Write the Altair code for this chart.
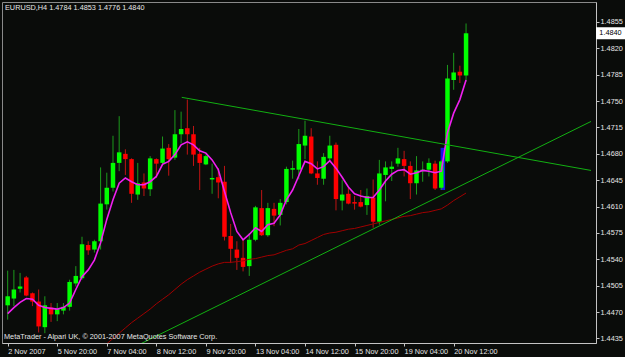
import altair as alt
import pandas as pd

# ---------------- data ----------------
bar_index = list(range(75))
opens = [1.4479, 1.4488, 1.4501, 1.4516, 1.4495, 1.4484, 1.4450, 1.4476, 1.4467, 1.4472,
         1.4477, 1.4508, 1.4515, 1.4559, 1.4553, 1.4564, 1.4613, 1.4635, 1.4668, 1.4680,
         1.4673, 1.4626, 1.4642, 1.4633, 1.4673, 1.4668, 1.4688, 1.4675, 1.4706, 1.4714,
         1.4706, 1.4680, 1.4666, 1.4646, 1.4649, 1.4643, 1.4571, 1.4553, 1.4542, 1.4531,
         1.4566, 1.4608, 1.4572, 1.4607, 1.4599, 1.4616, 1.4659, 1.4659, 1.4691, 1.4703,
         1.4654, 1.4647, 1.4674, 1.4692, 1.4618, 1.4627, 1.4616, 1.4616, 1.4612, 1.4622,
         1.4590, 1.4652, 1.4660, 1.4667, 1.4673, 1.4664, 1.4641, 1.4657, 1.4659, 1.4667,
         1.4635, 1.4670, 1.4778, 1.4789, 1.4784]
highs = [1.4525, 1.4526, 1.4522, 1.4518, 1.4496, 1.4500, 1.4491, 1.4482, 1.4482, 1.4482,
         1.4513, 1.4531, 1.4570, 1.4564, 1.4566, 1.4662, 1.4655, 1.4704, 1.4730, 1.4686,
         1.4674, 1.4668, 1.4654, 1.4677, 1.4674, 1.4703, 1.4693, 1.4738, 1.4736, 1.4752,
         1.4717, 1.4688, 1.4679, 1.4667, 1.4661, 1.4664, 1.4587, 1.4564, 1.4567, 1.4575,
         1.4611, 1.4632, 1.4615, 1.4615, 1.4620, 1.4663, 1.4671, 1.4713, 1.4724, 1.4714,
         1.4670, 1.4681, 1.4704, 1.4695, 1.4645, 1.4635, 1.4624, 1.4632, 1.4634, 1.4646,
         1.4672, 1.4670, 1.4670, 1.4688, 1.4684, 1.4670, 1.4677, 1.4670, 1.4674, 1.4671,
         1.4672, 1.4798, 1.4814, 1.4797, 1.4853]
lows = [1.4460, 1.4478, 1.4496, 1.4491, 1.4478, 1.4443, 1.4442, 1.4457, 1.4458, 1.4467,
        1.4472, 1.4504, 1.4513, 1.4546, 1.4549, 1.4553, 1.4606, 1.4630, 1.4657, 1.4652,
        1.4615, 1.4619, 1.4624, 1.4624, 1.4648, 1.4666, 1.4651, 1.4672, 1.4694, 1.4679,
        1.4664, 1.4632, 1.4665, 1.4627, 1.4621, 1.4565, 1.4535, 1.4526, 1.4524, 1.4518,
        1.4564, 1.4571, 1.4570, 1.4584, 1.4585, 1.4613, 1.4647, 1.4646, 1.4673, 1.4653,
        1.4639, 1.4639, 1.4670, 1.4605, 1.4605, 1.4613, 1.4606, 1.4609, 1.4599, 1.4582,
        1.4586, 1.4617, 1.4644, 1.4663, 1.4650, 1.4620, 1.4626, 1.4643, 1.4650, 1.4632,
        1.4632, 1.4668, 1.4765, 1.4774, 1.4776]
closes = [1.4491, 1.4500, 1.4504, 1.4492, 1.4484, 1.4451, 1.4479, 1.4467, 1.4474, 1.4477,
          1.4510, 1.4518, 1.4560, 1.4552, 1.4564, 1.4614, 1.4635, 1.4668, 1.4682, 1.4673,
          1.4627, 1.4641, 1.4634, 1.4674, 1.4667, 1.4687, 1.4673, 1.4706, 1.4713, 1.4706,
          1.4679, 1.4668, 1.4677, 1.4648, 1.4642, 1.4570, 1.4554, 1.4542, 1.4530, 1.4566,
          1.4609, 1.4572, 1.4608, 1.4598, 1.4615, 1.4660, 1.4661, 1.4693, 1.4704, 1.4654,
          1.4648, 1.4676, 1.4691, 1.4620, 1.4626, 1.4614, 1.4614, 1.4610, 1.4624, 1.4590,
          1.4654, 1.4662, 1.4663, 1.4674, 1.4664, 1.4641, 1.4658, 1.4659, 1.4668, 1.4634,
          1.4670, 1.4780, 1.4788, 1.4784, 1.4840]

ma_fast = [1.4468, 1.4476, 1.4483, 1.4488, 1.4487, 1.4479, 1.4476, 1.4475, 1.4474, 1.4476,
           1.4482, 1.4500, 1.4517, 1.4526, 1.4539, 1.4562, 1.4593, 1.4619, 1.4641, 1.4648,
           1.4643, 1.4639, 1.4639, 1.4643, 1.4650, 1.4666, 1.4670, 1.4679, 1.4692, 1.4696,
           1.4692, 1.4684, 1.4681, 1.4672, 1.4659, 1.4630, 1.4602, 1.4577, 1.4566, 1.4573,
           1.4582, 1.4577, 1.4586, 1.4588, 1.4599, 1.4619, 1.4632, 1.4651, 1.4670, 1.4667,
           1.4660, 1.4663, 1.4671, 1.4661, 1.4649, 1.4636, 1.4627, 1.4624, 1.4622, 1.4622,
           1.4632, 1.4644, 1.4653, 1.4658, 1.4659, 1.4653, 1.4655, 1.4658, 1.4657, 1.4655,
           1.4657, 1.4708, 1.4734, 1.4752, 1.4778]

ma_slow_bars = list(range(16, 75))
ma_slow = [1.4428, 1.4435, 1.4442, 1.4449, 1.4456, 1.4462, 1.4468, 1.4474, 1.4481, 1.4487,
           1.4493, 1.4500, 1.4507, 1.4513, 1.4518, 1.4523, 1.4527, 1.4531, 1.4534, 1.4536,
           1.4536, 1.4537, 1.4538, 1.4540, 1.4541, 1.4543, 1.4545, 1.4546, 1.4549, 1.4552,
           1.4554, 1.4559, 1.4561, 1.4565, 1.4569, 1.4573, 1.4575, 1.4576, 1.4578, 1.4580,
           1.4581, 1.4583, 1.4585, 1.4587, 1.4589, 1.4591, 1.4593, 1.4595, 1.4597, 1.4598,
           1.4600, 1.4602, 1.4603, 1.4605, 1.4607, 1.4612, 1.4618, 1.4623, 1.4628]

trend_name = ["upper", "upper", "lower", "lower"]
trend_bar = [28.1, 94.17, 20.0, 94.17]
trend_price = [1.4755, 1.4658, 1.4422, 1.4723]

marker_bar = [70.25]
marker_top = [1.4688]
marker_bottom = [1.4632]

x_tick_bars = [0, 8, 16, 24, 32, 40, 48, 56, 64, 72]
x_tick_labels = ["2 Nov 2007", "5 Nov 20:00", "7 Nov 04:00", "8 Nov 12:00", "9 Nov 20:00",
                 "13 Nov 04:00", "14 Nov 12:00", "15 Nov 20:00", "19 Nov 04:00", "20 Nov 12:00"]
y_ticks = [1.4435, 1.4470, 1.4505, 1.4540, 1.4575, 1.4610, 1.4645, 1.4680,
           1.4715, 1.4750, 1.4785, 1.4820, 1.4855]

header_text = "EURUSD,H4  1.4784 1.4853 1.4776 1.4840"
footer_text = "MetaTrader - Alpari UK, \u00a9 2001-2007 MetaQuotes Software Corp."
last_price = [1.4840]
last_price_label = ["1.4840"]

# ---------------- chart ----------------
FONT = "Liberation Sans"
FS = 7.3
BG = "#0a0c0a"

candles = pd.DataFrame({"bar": bar_index, "open": opens, "high": highs,
                        "low": lows, "close": closes})
fast = pd.DataFrame({"bar": bar_index, "ma": ma_fast})
slow = pd.DataFrame({"bar": ma_slow_bars, "ma": ma_slow})
trend = pd.DataFrame({"line": trend_name, "bar": trend_bar, "price": trend_price})
marker = pd.DataFrame({"bar": marker_bar, "top": marker_top, "bottom": marker_bottom})

xs = alt.Scale(domain=[-0.11, 94.17], nice=False, zero=False)
ys = alt.Scale(domain=[1.4429, 1.48815], nice=False, zero=False)

label_js = "[" + ",".join("'" + s + "'" for s in x_tick_labels) + "]"
x_axis = alt.Axis(values=x_tick_bars, labelExpr=label_js + "[round(datum.value/8)]",
                  labelAlign="left", labelBaseline="top", labelPadding=1,
                  labelOverlap=False, labelFlush=False, labelBound=False,
                  title=None, grid=False)
y_axis = alt.Axis(orient="right", values=y_ticks, format=".4f", labelAlign="left",
                  labelPadding=1, labelOverlap=False, labelFlush=False,
                  title=None, grid=False)


def X(field):
    return alt.X(field, scale=xs, axis=x_axis)


def Y(field):
    return alt.Y(field, scale=ys, axis=y_axis)


up = "datum.close >= datum.open"

marker_layer = alt.Chart(marker).mark_bar(size=4.5, color="#1414e6", clip=True).encode(
    x=X("bar:Q"), y=Y("top:Q"), y2="bottom:Q")

wicks = alt.Chart(candles).mark_rule(strokeWidth=1, clip=True).encode(
    x=X("bar:Q"), y=Y("low:Q"), y2="high:Q",
    color=alt.condition(up, alt.value("#1c9a1c"), alt.value("#c01414")))

bodies = alt.Chart(candles).mark_bar(size=4.5, clip=True).encode(
    x=X("bar:Q"), y=Y("open:Q"), y2="close:Q",
    color=alt.condition(up, alt.value("#00ff00"), alt.value("#ff0000")))

slow_line = alt.Chart(slow).mark_line(color="#a00000", strokeWidth=1, clip=True).encode(
    x=X("bar:Q"), y=Y("ma:Q"))

fast_line = alt.Chart(fast).mark_line(color="#f020f0", strokeWidth=1.6, clip=True).encode(
    x=X("bar:Q"), y=Y("ma:Q"))

trend_lines = alt.Chart(trend).mark_line(color="#12b012", strokeWidth=1, clip=True).encode(
    x=X("bar:Q"), y=Y("price:Q"), detail="line:N")

header = alt.Chart(pd.DataFrame({"t": [header_text]})).mark_text(
    align="left", baseline="middle", font=FONT, fontSize=FS, color="#e6e6e6").encode(
    x=alt.value(3), y=alt.value(6), text="t:N")

footer = alt.Chart(pd.DataFrame({"t": [footer_text]})).mark_text(
    align="left", baseline="middle", font=FONT, fontSize=FS, color="#e6e6e6").encode(
    x=alt.value(2), y=alt.value(335), text="t:N")

price_df = pd.DataFrame({"price": last_price, "label": last_price_label})
price_box = alt.Chart(price_df).mark_point(
    shape="M-1,-0.37H1V0.37H-1Z", size=729, filled=True, fill="#ffffff",
    stroke="#ffffff", opacity=1).encode(
    x=alt.value(608.5), y=Y("price:Q"))
price_text = alt.Chart(price_df).mark_text(
    align="center", baseline="middle", font=FONT, fontSize=FS, color="#000000").encode(
    x=alt.value(608.5), y=Y("price:Q"), text="label:N")

chart = alt.layer(
    marker_layer, wicks, bodies, slow_line, fast_line, trend_lines,
    header, footer, price_box, price_text
).properties(
    width=594, height=341,
    padding={"left": 2, "top": 2, "right": 29, "bottom": 14},
    autosize=alt.AutoSizeParams(type="none"),
    background=BG
).configure_view(
    stroke="#8a8a8a", strokeWidth=1, fill=BG
).configure_axis(
    domainColor="#c4c4c4", tickColor="#c4c4c4", labelColor="#e6e6e6",
    labelFont=FONT, labelFontSize=FS, tickSize=3, domainWidth=1, tickWidth=1
)

chart.save("out.html", embed_options={"renderer": "svg", "actions": False})
